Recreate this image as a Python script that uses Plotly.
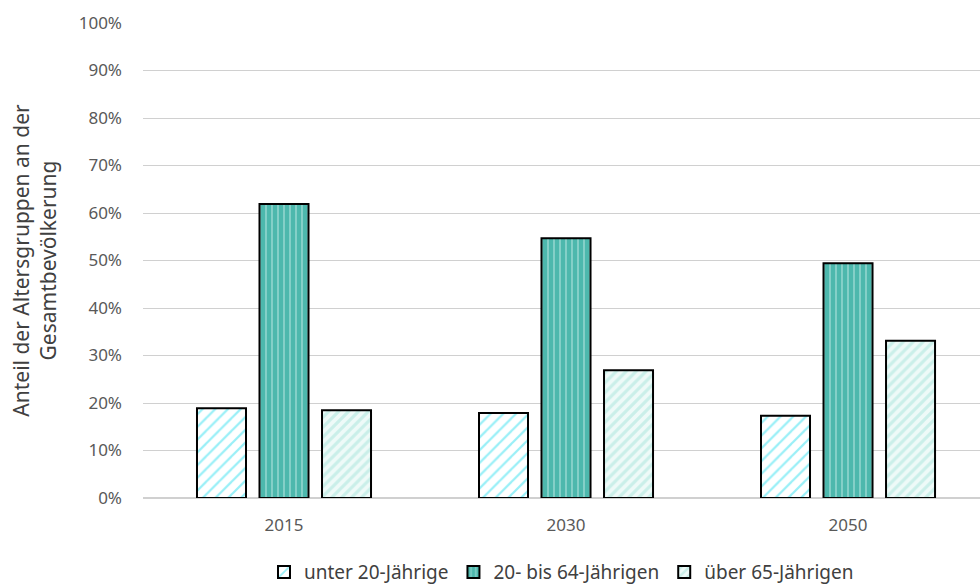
import plotly.graph_objects as go

jahre = ["2015", "2030", "2050"]
unter_20 = [18.9, 17.9, 17.3]
zwanzig_bis_64 = [61.9, 54.7, 49.4]
ueber_65 = [18.5, 26.9, 33.1]
y_ticks = [0, 10, 20, 30, 40, 50, 60, 70, 80, 90, 100]
y_tick_labels = [f"{v}%" for v in y_ticks]

FONT = "Noto Sans, DejaVu Sans, sans-serif"

fig = go.Figure()
fig.add_trace(go.Bar(
    name="unter 20-Jährige", x=jahre, y=unter_20,
    marker=dict(color="white", line=dict(color="black", width=2),
                pattern=dict(shape="/", fgcolor="#33e0f0", bgcolor="white",
                             size=9, solidity=0.25)),
))
fig.add_trace(go.Bar(
    name="20- bis 64-Jährigen", x=jahre, y=zwanzig_bis_64,
    marker=dict(color="#4db8ad", line=dict(color="black", width=2),
                pattern=dict(shape="|", fgcolor="#c8ece8", bgcolor="#4db8ad",
                             size=6, solidity=0.3)),
))
fig.add_trace(go.Bar(
    name="über 65-Jährigen", x=jahre, y=ueber_65,
    marker=dict(color="white", line=dict(color="black", width=2),
                pattern=dict(shape="/", fgcolor="#a6e3da", bgcolor="#eefaf8",
                             size=7, solidity=0.45)),
))

fig.update_layout(
    width=980, height=585,
    margin=dict(l=143, r=0, t=23, b=87),
    paper_bgcolor="white", plot_bgcolor="white",
    barmode="group", bargap=0.335, bargroupgap=0.216,
    font=dict(family=FONT, size=17, color="#595959"),
    legend=dict(orientation="h", x=0.5, xanchor="center",
                yref="container", y=0.022, yanchor="middle",
                font=dict(size=19, color="#404040"), itemwidth=30,
                tracegroupgap=0, traceorder="normal"),
    xaxis=dict(range=[-0.5, 2.468], showgrid=False, showline=True,
               linecolor="#d0d0d0", linewidth=1, ticks="", ticklabelstandoff=12,
               tickfont=dict(size=17, color="#595959")),
    yaxis=dict(range=[0, 100], tickvals=y_ticks, ticktext=y_tick_labels,
               showgrid=True, gridcolor="#d0d0d0", gridwidth=1,
               zeroline=True, zerolinecolor="#d0d0d0", ticks="",
               ticklabelstandoff=20,
               tickfont=dict(size=17, color="#595959"),
               title=dict(text="Anteil der Altersgruppen an der<br>Gesamtbevölkerung",
                          font=dict(size=21, color="#404040"), standoff=16)),
)

fig.write_html("out.html")
